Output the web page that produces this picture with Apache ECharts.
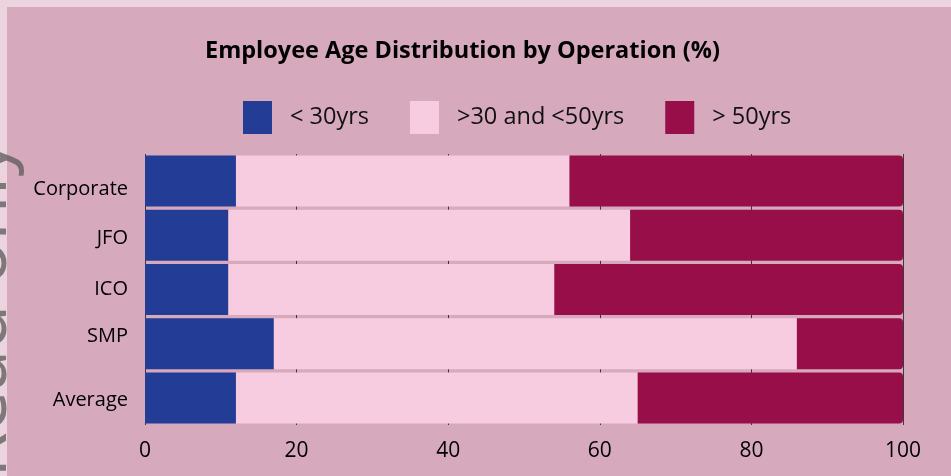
<!DOCTYPE html>
<html>
<head>
<meta charset="utf-8">
<script src="https://cdn.jsdelivr.net/npm/echarts@6/dist/echarts.min.js"></script>
<style>
  html, body { margin: 0; padding: 0; background: #ecd4df; }
  #chart { width: 951px; height: 476px; }
</style>
</head>
<body>
<div id="chart"></div>
<script>
// 数据
const operations = ['Corporate', 'JFO', 'ICO', 'SMP', 'Average']
const under30 = [12, 11, 11, 17, 12]
const from30to50 = [44, 53, 43, 69, 53]
const over50 = [44, 36, 46, 14, 35]
const seriesNames = ['< 30yrs', '>30 and <50yrs', '> 50yrs']
const colors = ['#233c96', '#f8cce0', '#970e48']

const font = 'Open Sans'
const myChart = echarts.init(document.getElementById('chart'))

// 标签在原图里不是严格居中的，稍微挪一下
const labelPad = [[16, 0, 0, 0], [6, 0, 0, 0], [0, 0, 0, 0], [0, 0, 15, 0], [4, 0, 0, 0]]
const rich = {}
labelPad.forEach((p, i) => {
    rich['p' + i] = { fontFamily: font, fontSize: 20, color: '#000', padding: p }
})

function bar(name, data, color, last) {
    return {
        name: name,
        type: 'bar',
        stack: 'total',
        data: data,
        barWidth: 51,
        itemStyle: { color: color, borderRadius: last ? [0, 4, 4, 0] : 0 }
    }
}

const option = {
    animation: false,
    backgroundColor: 'transparent',
    color: colors,
    graphic: [
        { type: 'rect', left: 7, top: 7, shape: { width: 944, height: 469 }, style: { fill: '#d7a9bd' }, z: -10 },
        {
            type: 'text', x: 22, y: 478, rotation: Math.PI / 2, z: -5,
            style: { text: 'Read only', font: '74px "Open Sans"', fill: 'rgba(90,90,90,0.75)', textVerticalAlign: 'bottom' }
        }
    ],
    title: {
        text: 'Employee Age Distribution by Operation (%)',
        left: 200,
        top: 34,
        textStyle: { fontFamily: font, fontWeight: 'bold', fontSize: 23.5, color: '#000' }
    },
    legend: {
        top: 96,
        left: 238,
        itemWidth: 29,
        itemHeight: 33,
        itemGap: 41,
        icon: 'rect',
        textStyle: { fontFamily: font, fontSize: 23.5, color: '#111', padding: [0, 0, 0, 13] },
        data: seriesNames
    },
    grid: { left: 145, right: 48, top: 154, bottom: 51, containLabel: false },
    xAxis: {
        type: 'value',
        min: 0,
        max: 100,
        interval: 20,
        axisLine: { show: false },
        axisTick: { show: false },
        splitLine: { show: true, lineStyle: { color: '#3a3a3a', width: 1 } },
        axisLabel: { fontFamily: font, fontSize: 21, color: '#000', margin: 16 }
    },
    yAxis: {
        type: 'category',
        inverse: true,
        data: operations,
        axisLine: { show: false },
        axisTick: { show: false },
        axisLabel: {
            margin: 17,
            formatter: (v, i) => '{p' + i + '|' + v + '}',
            rich: rich
        }
    },
    series: [
        bar(seriesNames[0], under30, colors[0], false),
        bar(seriesNames[1], from30to50, colors[1], false),
        bar(seriesNames[2], over50, colors[2], true)
    ]
}

myChart.setOption(option)
</script>
</body>
</html>
